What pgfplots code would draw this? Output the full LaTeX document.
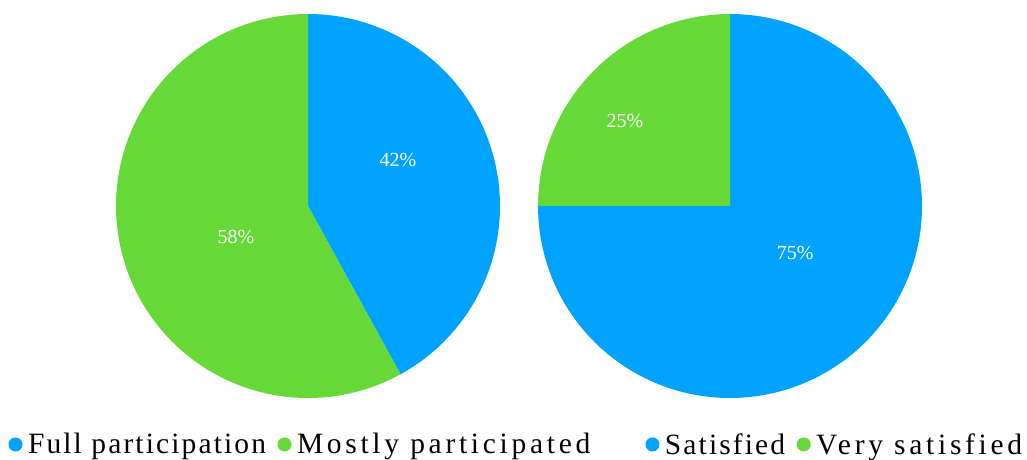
\documentclass[border=0pt]{standalone}
\usepackage{pgfplots}
\usepackage{pgfplotstable}
\pgfplotsset{compat=1.18}
\usepackage{fontspec}
\setmainfont{Liberation Serif}
\newfontfamily\legendfont[LetterSpace=7.2]{Liberation Serif}
\newfontfamily\legendfontw[LetterSpace=12.6]{Liberation Serif}
\definecolor{pieblue}{RGB}{0,162,255}
\definecolor{piegreen}{RGB}{102,217,56}

\pgfplotstableread{
label value
Full 42
Mostly 58
}\leftdata
\pgfplotstableread{
label value
Satisfied 75
Very 25
}\rightdata

\tikzset{lbl/.style={font=\fontsize{20}{24}\selectfont, text=white}}

\begin{document}
\begin{tikzpicture}
\useasboundingbox (0,0) rectangle (1027pt,-459pt);
\pgfplotstablegetelem{0}{value}\of\leftdata \let\la\pgfplotsretval
\pgfplotstablegetelem{0}{value}\of\rightdata \let\ra\pgfplotsretval
\pgfmathsetmacro\lb{90-3.6*\la}
\pgfmathsetmacro\rb{90-3.6*\ra}
\pgfplotsset{
  pieaxis/.style={
    width=384pt, height=384pt, scale only axis,
    xmin=-1, xmax=1, ymin=-1, ymax=1, hide axis, clip=false,
    legend columns=-1,
    legend style={draw=none, fill=none, font=\legendfont\fontsize{29.5}{33}\selectfont,
      inner sep=0pt, outer sep=0pt, column sep=0pt,
      /tikz/every odd column/.append style={column sep=0pt},
      /tikz/every even column/.append style={column sep=9pt},
      nodes={inner xsep=2.5pt, inner ysep=0pt}},
    legend image code/.code={\fill (0pt,0pt) circle (7pt); \path (10pt,0pt);},
  },
}
\begin{axis}[pieaxis, at={(308pt,-206pt)}, anchor=center,
  legend style={at={(axis description cs:-0.2799,-0.121)}, anchor=west}]
\addplot[fill=pieblue, draw=none, domain=90:\lb, samples=150] ({cos(x)},{sin(x)}) -- (axis cs:0,0) -- cycle;
\addlegendentry{Full participation}
\addplot[fill=piegreen, draw=none, domain=\lb:-270, samples=150] ({cos(x)},{sin(x)}) -- (axis cs:0,0) -- cycle;
\addlegendentry{\legendfontw Mostly participated}
\node[lbl] at (axis cs:0.469,0.240) {42\%};
\node[lbl] at (axis cs:-0.375,-0.161) {58\%};
\end{axis}
\begin{axis}[pieaxis, at={(730pt,-206pt)}, anchor=center,
  legend style={at={(axis description cs:0.2799,-0.121)}, anchor=west}]
\addplot[fill=pieblue, draw=none, domain=90:\rb, samples=150] ({cos(x)},{sin(x)}) -- (axis cs:0,0) -- cycle;
\addlegendentry{Satisfied}
\addplot[fill=piegreen, draw=none, domain=\rb:-270, samples=150] ({cos(x)},{sin(x)}) -- (axis cs:0,0) -- cycle;
\addlegendentry{\legendfontw Very satisfied}
\node[lbl] at (axis cs:-0.547,0.443) {25\%};
\node[lbl] at (axis cs:0.339,-0.245) {75\%};
\end{axis}
\end{tikzpicture}
\end{document}
